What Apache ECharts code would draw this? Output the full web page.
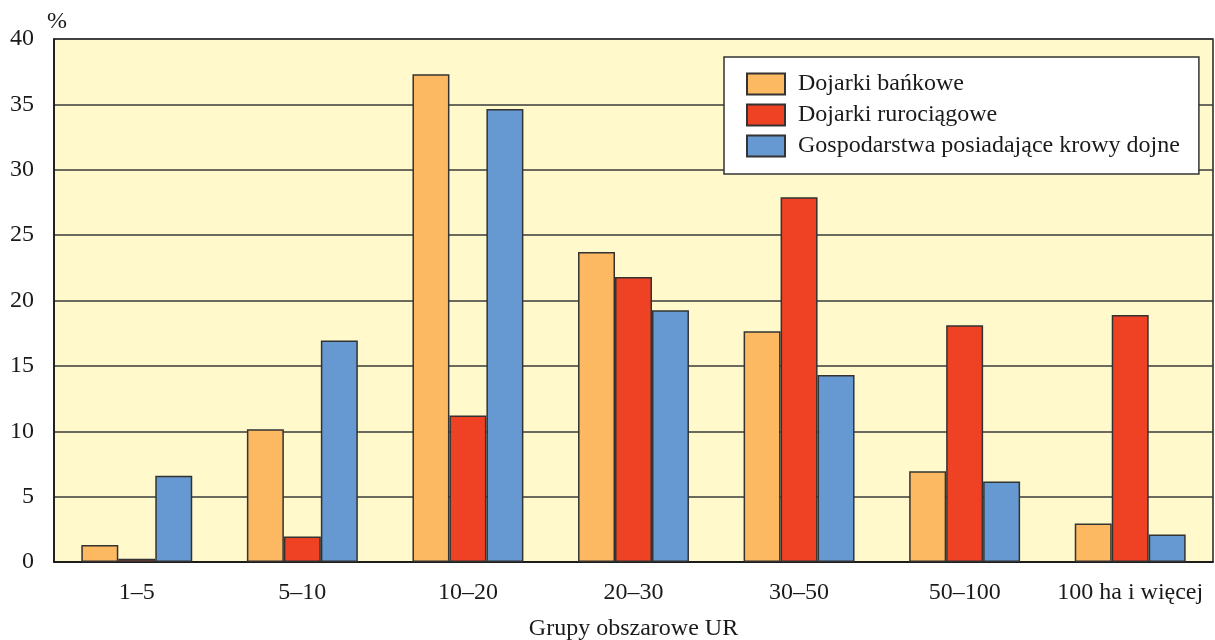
<!DOCTYPE html>
<html>
<head>
<meta charset="utf-8">
<script src="https://cdn.jsdelivr.net/npm/echarts@6/dist/echarts.min.js"></script>
<style>html,body{margin:0;padding:0;background:#fff}#c{width:1215px;height:640px}</style>
</head>
<body>
<div id="c"></div>
<script>
const categories = ['1–5', '5–10', '10–20', '20–30', '30–50', '50–100', '100 ha i więcej'];
const seriesNames = ['Dojarki bańkowe', 'Dojarki rurociągowe', 'Gospodarstwa posiadające krowy dojne'];
const dojarkiBankowe = [1.3, 10.15, 37.3, 23.7, 17.65, 6.95, 2.95];
const dojarkiRurociagowe = [0.25, 1.95, 11.2, 21.8, 27.9, 18.1, 18.9];
const gospodarstwa = [6.6, 16.95, 34.65, 19.25, 14.3, 6.15, 2.1];
const yTicks = { min: 0, max: 40, interval: 5 };

const colors = ['#FDB961', '#EF4123', '#6699D1'];
const font = '"Liberation Serif", "Times New Roman", serif';
const values = [dojarkiBankowe, dojarkiRurociagowe, gospodarstwa];

const chart = echarts.init(document.getElementById('c'), null, { renderer: 'canvas' });
chart.setOption({
  animation: false,
  backgroundColor: '#ffffff',
  textStyle: { fontFamily: font, color: '#1a1a1a' },
  title: {
    text: '%', left: 47, top: 10, padding: 0,
    textStyle: { fontFamily: font, fontSize: 24, fontWeight: 'normal', color: '#1a1a1a' }
  },
  grid: {
    left: 54, right: 2, top: 39, bottom: 78,
    containLabel: false, outerBoundsMode: 'none',
    show: true, backgroundColor: '#FFF9CC', borderColor: '#222', borderWidth: 1.5
  },
  legend: {
    orient: 'vertical', left: 724, top: 57,
    padding: [15, 19, 16, 22],
    backgroundColor: '#ffffff', borderColor: '#333', borderWidth: 1.5,
    itemWidth: 38, itemHeight: 21, itemGap: 7,
    icon: 'rect',
    textStyle: { fontFamily: font, fontSize: 24, color: '#1a1a1a', padding: [0, 0, 0, 8] },
    data: seriesNames
  },
  xAxis: {
    type: 'category', data: categories,
    name: 'Grupy obszarowe UR', nameLocation: 'middle', nameGap: 55,
    nameTextStyle: { fontFamily: font, fontSize: 24, color: '#1a1a1a' },
    axisLine: { show: true, lineStyle: { color: '#111', width: 1.5 } },
    axisTick: { show: false },
    axisLabel: { fontFamily: font, fontSize: 24, color: '#1a1a1a', margin: 19, interval: 0 },
    splitLine: { show: false }
  },
  yAxis: {
    type: 'value', min: yTicks.min, max: yTicks.max, interval: yTicks.interval,
    axisLine: { show: true, lineStyle: { color: '#111', width: 1.5 } },
    axisTick: { show: false },
    axisLabel: { fontFamily: font, fontSize: 24, color: '#1a1a1a', margin: 20 },
    splitLine: { show: true, lineStyle: { color: '#3a3a3a', width: 1.5 } }
  },
  series: seriesNames.map((n, i) => ({
    name: n, type: 'bar', data: values[i],
    barGap: '0%', barCategoryGap: '33%',
    itemStyle: { color: colors[i], borderColor: '#333', borderWidth: 1.5 }
  }))
});
</script>
</body>
</html>
